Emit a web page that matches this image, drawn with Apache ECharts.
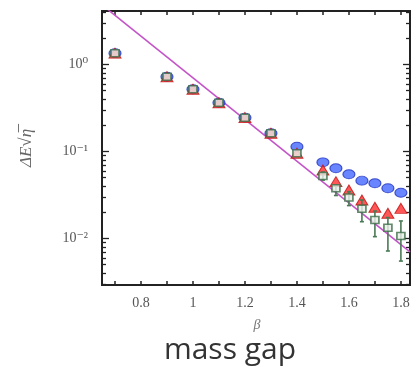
<!DOCTYPE html>
<html>
<head>
<meta charset="utf-8">
<script src="https://cdn.jsdelivr.net/npm/echarts@6/dist/echarts.min.js"></script>
<style>html,body{margin:0;padding:0;background:#fff}#c{width:415px;height:371px}</style>
</head>
<body>
<div id="c"></div>
<script>
const betaVals = [0.7, 0.9, 1.0, 1.1, 1.2, 1.3, 1.4, 1.5, 1.55, 1.6, 1.65, 1.7, 1.75, 1.8];
const blueVals = [1.35, 0.724, 0.519, 0.364, 0.245, 0.162, 0.1135, 0.0751, 0.0641, 0.0547, 0.0462, 0.0431, 0.0378, 0.0336];
const redVals = [1.35, 0.724, 0.519, 0.364, 0.245, 0.162, 0.0953, 0.0613, 0.045, 0.0361, 0.0277, 0.0229, 0.0195, 0.0222];
const greenVals = [1.35, 0.724, 0.519, 0.364, 0.245, 0.162, 0.0953, 0.0523, 0.0378, 0.0296, 0.0219, 0.0163, 0.0133, 0.0107];
const greenLow = [null, null, null, null, null, null, null, 0.0469, 0.0312, 0.0239, 0.0156, 0.0105, 0.00718, 0.0055];
const greenHigh = [null, null, null, null, null, null, null, 0.0580, 0.0406, 0.0345, 0.0277, 0.0207, 0.0174, 0.0159];
const lineBeta = [0.65, 1.835];
const lineVals = [4.84, 0.00703];
const xTickVals = [0.7, 0.8, 0.9, 1.0, 1.1, 1.2, 1.3, 1.4, 1.5, 1.6, 1.7, 1.8];
const xLabelVals = [0.8, 1.0, 1.2, 1.4, 1.6, 1.8];
const yMajorVals = [1, 0.1, 0.01];
const yLabels = ['10\u2070', '10\u207B\u00B9', '10\u207B\u00B2'];
const yMinorVals = [0.003,0.004,0.005,0.006,0.007,0.008,0.009,0.02,0.03,0.04,0.05,0.06,0.07,0.08,0.09,0.2,0.3,0.4,0.5,0.6,0.7,0.8,0.9,2,3,4];

const X_MIN = 0.65, X_MAX = 1.835, Y_MIN = 0.00292, Y_MAX = 4.12;
const serif = '"Liberation Serif", "DejaVu Serif", serif';
const frameLine = {show: true, lineStyle: {color: '#222', width: 2}};

function pairs(xs, ys) { return xs.map((x, i) => [x, ys[i]]); }

function xAxisDef(pos, labels) {
  return {
    type: 'value', position: pos, min: X_MIN, max: X_MAX,
    axisLine: frameLine, splitLine: {show: false},
    axisTick: {show: true, inside: true, length: 4, customValues: xTickVals, lineStyle: {color: '#222', width: 1.5}},
    axisLabel: labels ? {show: true, customValues: xLabelVals, margin: 11, fontFamily: serif, fontSize: 14, color: '#555',
      formatter: v => (Math.abs(v - 1) < 1e-9 ? '1' : String(Math.round(v * 10) / 10))} : {show: false}
  };
}
function yAxisDef(pos, major, labels) {
  return {
    type: 'log', position: pos, min: Y_MIN, max: Y_MAX,
    axisLine: frameLine, splitLine: {show: false}, minorTick: {show: false},
    axisTick: {show: true, inside: true, length: major ? 7 : 4, customValues: major ? yMajorVals : yMinorVals,
      lineStyle: {color: '#222', width: 1.3}},
    axisLabel: labels ? {show: true, customValues: yMajorVals, margin: 14, fontFamily: serif, fontSize: 14, color: '#555',
      formatter: v => yLabels[yMajorVals.findIndex(m => Math.abs(m - v) / m < 1e-6)]} : {show: false}
  };
}

const chart = echarts.init(document.getElementById('c'), null, {renderer: 'canvas'});
chart.setOption({
  animation: false,
  backgroundColor: '#fff',
  grid: {left: 102, top: 11, right: 5, bottom: 86, containLabel: false},
  xAxis: [xAxisDef('bottom', true), xAxisDef('top', false)],
  yAxis: [yAxisDef('left', true, true), yAxisDef('left', false, false), yAxisDef('right', true, false), yAxisDef('right', false, false)],
  series: [
    {type: 'line', data: pairs(lineBeta, lineVals), showSymbol: false, symbol: 'none',
     lineStyle: {color: '#c455c8', width: 1.6}, z: 1, clip: true},
    {type: 'scatter', data: pairs(betaVals, blueVals), symbol: 'circle', symbolSize: [12, 9],
     itemStyle: {color: '#4466ff', borderColor: '#2233bb', borderWidth: 1}, z: 2},
    {type: 'scatter', data: pairs(betaVals, redVals), symbol: 'triangle', symbolSize: [12, 10],
     itemStyle: {color: '#ff2d2d', borderColor: '#c01010', borderWidth: 1}, z: 3},
    {type: 'custom', z: 4,
     data: betaVals.map((b, i) => [b, greenLow[i], greenHigh[i]]).filter(d => d[1] != null),
     renderItem: function (params, api) {
       const lo = api.coord([api.value(0), api.value(1)]);
       const hi = api.coord([api.value(0), api.value(2)]);
       const st = {stroke: '#4a7a55', lineWidth: 1.6};
       return {type: 'group', children: [
         {type: 'line', shape: {x1: lo[0], y1: lo[1], x2: hi[0], y2: hi[1]}, style: st},
         {type: 'line', shape: {x1: lo[0] - 2, y1: lo[1], x2: lo[0] + 2, y2: lo[1]}, style: st},
         {type: 'line', shape: {x1: hi[0] - 2, y1: hi[1], x2: hi[0] + 2, y2: hi[1]}, style: st}
       ]};
     }},
    {type: 'scatter', data: pairs(betaVals, greenVals), symbol: 'rect', symbolSize: [8, 7],
     itemStyle: {color: '#e8efe8', borderColor: '#3d6e48', borderWidth: 1.6}, z: 5}
  ],
  graphic: [
    {type: 'text', x: 27, y: 148, rotation: Math.PI / 2,
     style: {text: '\u0394E\u221A\u03B7\u0305', font: 'italic 17px ' + serif, fill: '#666', align: 'center', verticalAlign: 'middle'}},
    {type: 'text', x: 257, y: 325, style: {text: '\u03B2', font: 'italic 14px ' + serif, fill: '#777', align: 'center', verticalAlign: 'middle'}},
    {type: 'text', x: 230, y: 350, style: {text: 'mass gap', font: '30px "Open Sans", sans-serif', fill: '#333', align: 'center', verticalAlign: 'middle'}}
  ]
});
</script>
</body>
</html>
